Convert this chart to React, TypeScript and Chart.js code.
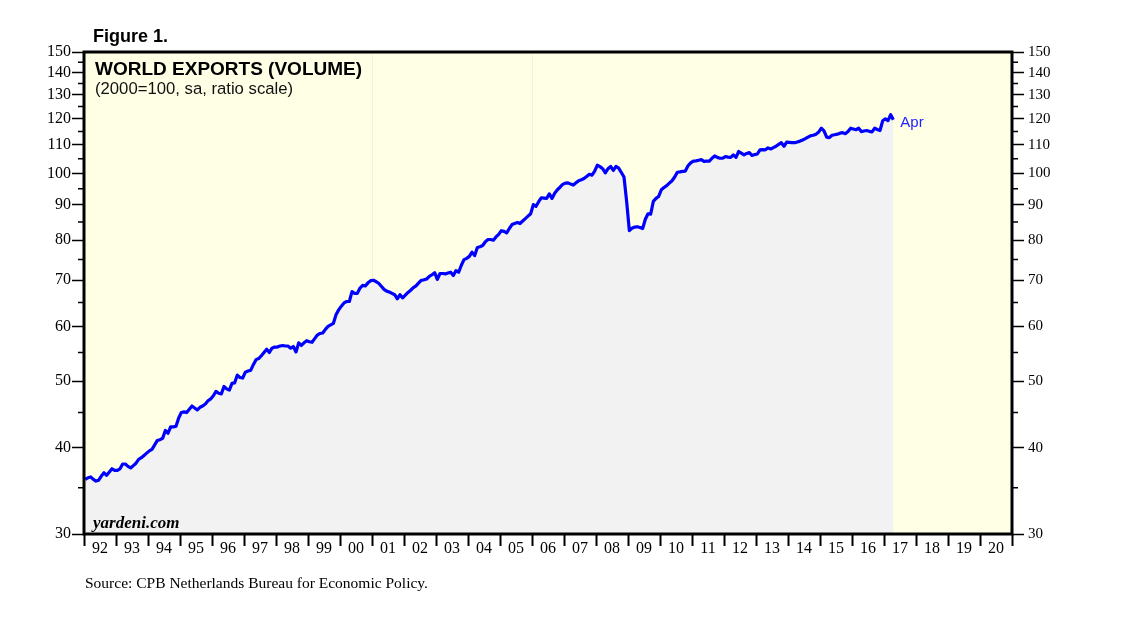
import React, { useEffect, useRef } from "react";
import { Chart, registerables } from "chart.js";

Chart.register(...registerables);

// ---- tick labels / categories ----
const YEAR_LABELS = [
  "92", "93", "94", "95", "96", "97", "98", "99", "00", "01",
  "02", "03", "04", "05", "06", "07", "08", "09", "10", "11",
  "12", "13", "14", "15", "16", "17", "18", "19", "20",
];
const Y_TICKS = [30, 35, 40, 45, 50, 55, 60, 65, 70, 75, 80, 85, 90, 95, 100, 105, 110, 115, 120, 125, 130, 135, 140, 145, 150];
const Y_MIN = 30;
const Y_MAX = 150;
const MONTHS_SPAN = 348; // Jan 1992 .. Dec 2020
const FAINT_LINE_MONTHS = [108, 168]; // 2001, 2006

// ---- World exports volume, monthly (2000=100) ----
const y1992 = [36.0, 36.2, 36.3, 36.0, 35.8, 35.9, 36.4, 36.8, 36.5, 36.9, 37.3, 37.1];
const y1993 = [37.1, 37.3, 37.9, 37.9, 37.6, 37.4, 37.7, 38.0, 38.5, 38.7, 39.0, 39.3];
const y1994 = [39.6, 39.8, 40.4, 41.0, 41.1, 41.3, 42.4, 42.0, 42.9, 42.9, 43.0, 44.2];
const y1995 = [45.0, 45.1, 45.0, 45.5, 46.0, 45.7, 45.4, 45.8, 46.0, 46.3, 46.8, 47.1];
const y1996 = [47.6, 48.3, 48.0, 47.9, 49.1, 48.7, 48.5, 49.6, 49.7, 51.0, 50.6, 50.5];
const y1997 = [51.5, 51.7, 51.8, 52.8, 53.7, 53.9, 54.4, 55.0, 55.6, 55.0, 55.8, 56.0];
const y1998 = [56.0, 56.2, 56.3, 56.2, 56.2, 55.8, 56.1, 55.1, 56.8, 56.3, 56.8, 57.2];
const y1999 = [57.0, 56.9, 57.6, 58.3, 58.6, 58.7, 59.4, 60.0, 60.3, 60.6, 62.4, 63.4];
const y2000 = [64.2, 64.9, 65.2, 65.2, 67.4, 67.0, 67.0, 68.2, 68.8, 68.7, 69.4, 69.9];
const y2001 = [70.0, 69.7, 69.3, 68.6, 67.9, 67.5, 67.3, 67.0, 66.7, 65.8, 66.7, 66.0];
const y2002 = [66.6, 67.2, 67.7, 68.3, 68.7, 69.4, 70.0, 70.1, 70.3, 70.9, 71.3, 71.8];
const y2003 = [70.2, 71.6, 71.6, 71.5, 71.7, 71.9, 71.1, 72.3, 71.9, 73.6, 75.0, 75.3];
const y2004 = [75.8, 76.9, 76.0, 78.1, 78.3, 78.6, 79.6, 80.2, 80.2, 80.0, 80.9, 81.6];
const y2005 = [82.6, 82.4, 82.0, 83.2, 84.3, 84.6, 84.9, 84.6, 85.3, 86.0, 86.7, 87.4];
const y2006 = [90.1, 89.6, 91.0, 92.2, 92.1, 92.0, 93.4, 92.0, 93.6, 94.7, 95.5, 96.4];
const y2007 = [96.8, 96.9, 96.5, 96.2, 96.9, 97.6, 97.9, 98.3, 99.0, 99.7, 99.4, 100.8];
const y2008 = [102.8, 102.3, 101.6, 100.2, 101.6, 102.4, 101.0, 102.4, 101.8, 100.3, 98.8, 91.0];
const y2009 = [82.6, 83.3, 83.6, 83.7, 83.5, 83.2, 85.8, 87.4, 87.3, 91.1, 92.0, 92.6];
const y2010 = [94.7, 95.4, 96.0, 96.8, 97.6, 98.8, 100.4, 100.5, 100.7, 100.8, 102.6, 103.6];
const y2011 = [104.2, 104.3, 104.5, 104.7, 104.1, 104.2, 104.2, 105.2, 106.0, 105.5, 105.2, 105.2];
const y2012 = [105.8, 105.6, 105.5, 106.4, 105.5, 107.6, 107.0, 106.4, 106.9, 107.2, 106.2, 106.5];
const y2013 = [106.7, 108.2, 108.3, 108.2, 108.9, 108.5, 109.0, 109.5, 110.2, 110.8, 109.5, 111.0];
const y2014 = [110.9, 110.8, 110.8, 111.1, 111.4, 111.8, 112.3, 112.9, 113.4, 113.6, 114.0, 114.8];
const y2015 = [116.3, 115.3, 112.9, 112.7, 113.6, 113.8, 114.0, 114.4, 114.6, 114.2, 115.0, 116.3];
const y2016 = [116.0, 115.7, 116.3, 115.0, 115.2, 115.4, 115.1, 114.9, 116.3, 115.8, 115.4, 119.2];
const y2017 = [120.0, 119.3, 121.7, 119.6];

const EXPORTS_VOLUME = [
  ...y1992, ...y1993, ...y1994, ...y1995, ...y1996, ...y1997, ...y1998, ...y1999,
  ...y2000, ...y2001, ...y2002, ...y2003, ...y2004, ...y2005, ...y2006, ...y2007,
  ...y2008, ...y2009, ...y2010, ...y2011, ...y2012, ...y2013, ...y2014, ...y2015,
  ...y2016, ...y2017,
];

const FIGURE_LABEL = "Figure 1.";
const TITLE = "WORLD EXPORTS (VOLUME)";
const SUBTITLE = "(2000=100, sa, ratio scale)";
const WATERMARK = "yardeni.com";
const LAST_LABEL = "Apr";
const SOURCE = "Source: CPB Netherlands Bureau for Economic Policy.";

const SERIF = "'Liberation Serif', 'Times New Roman', serif";
const SANS = "'Liberation Sans', Arial, sans-serif";

export default function App() {
  const ref = useRef<HTMLCanvasElement>(null);

  useEffect(() => {
    const canvas = ref.current;
    if (!canvas) return;
    const points = EXPORTS_VOLUME.map((v, i) => ({ x: i + 0.5, y: v }));

    const deco = {
      id: "deco",
      beforeDraw(chart: any) {
        const { ctx, chartArea: a } = chart;
        ctx.save();
        ctx.fillStyle = "#ffffff";
        ctx.fillRect(0, 0, chart.width, chart.height);
        ctx.fillStyle = "#ffffe6";
        ctx.fillRect(a.left, a.top, a.right - a.left, a.bottom - a.top);
        ctx.restore();
      },
      beforeDatasetsDraw(chart: any) {
        const { ctx, chartArea: a } = chart;
        const xs = chart.scales.x;
        ctx.save();
        ctx.strokeStyle = "#f1f1e2";
        ctx.lineWidth = 1;
        FAINT_LINE_MONTHS.forEach((m) => {
          const px = Math.round(xs.getPixelForValue(m)) + 0.5;
          ctx.beginPath();
          ctx.moveTo(px, a.top);
          ctx.lineTo(px, a.bottom);
          ctx.stroke();
        });
        ctx.restore();
      },
      afterDatasetsDraw(chart: any) {
        const { ctx, chartArea: a } = chart;
        const ys = chart.scales.y;
        const xs = chart.scales.x;
        ctx.save();
        // minor ticks
        ctx.strokeStyle = "#000";
        ctx.lineWidth = 1.5;
        Y_TICKS.forEach((v) => {
          if (v % 10 === 0) return;
          const py = ys.getPixelForValue(v);
          ctx.beginPath();
          ctx.moveTo(a.left - 6, py);
          ctx.lineTo(a.left, py);
          ctx.moveTo(a.right, py);
          ctx.lineTo(a.right + 6, py);
          ctx.stroke();
        });
        // frame
        ctx.lineWidth = 3;
        ctx.strokeRect(a.left, a.top, a.right - a.left, a.bottom - a.top);

        // texts
        ctx.fillStyle = "#000";
        ctx.textBaseline = "alphabetic";
        ctx.textAlign = "left";
        ctx.font = `bold 18px ${SANS}`;
        ctx.fillText(FIGURE_LABEL, 93, 42);
        ctx.font = `bold 19px ${SANS}`;
        ctx.fillText(TITLE, 95, 75);
        ctx.font = `16.7px ${SANS}`;
        ctx.fillStyle = "#111";
        ctx.fillText(SUBTITLE, 95, 94);
        ctx.fillStyle = "#000";
        ctx.font = `italic bold 17px ${SERIF}`;
        ctx.fillText(WATERMARK, 93, 528);
        ctx.font = `15.5px ${SERIF}`;
        ctx.fillText(SOURCE, 85, 588);

        // last-point label
        const last = points[points.length - 1];
        const lx = xs.getPixelForValue(last.x);
        const ly = ys.getPixelForValue(last.y);
        ctx.fillStyle = "#2222ff";
        ctx.font = `15px ${SANS}`;
        ctx.textBaseline = "middle";
        ctx.fillText(LAST_LABEL, lx + 7, ly + 3);
        ctx.restore();
      },
    };

    const yTickOpts = (side: "left" | "right") => ({
      type: "logarithmic" as const,
      position: side,
      min: Y_MIN,
      max: Y_MAX,
      afterBuildTicks: (axis: any) => {
        axis.ticks = Y_TICKS.map((v) => ({ value: v }));
      },
      afterFit: (axis: any) => {
        axis.width = side === "left" ? 84 : 1138 - 1012;
      },
      border: { display: false },
      grid: {
        drawOnChartArea: false,
        drawTicks: true,
        tickLength: 12,
        tickWidth: 1.5,
        tickColor: (c: any) => (c.tick && c.tick.value % 10 === 0 ? "#000" : "rgba(0,0,0,0)"),
      },
      ticks: {
        autoSkip: false,
        color: "#000",
        padding: side === "left" ? 1 : 4,
        font: { family: SERIF, size: side === "left" ? 16 : 15 },
        callback: (v: any) => (Number(v) % 10 === 0 ? String(v) : ""),
      },
    });

    const chart = new Chart(canvas, {
      type: "line",
      data: {
        datasets: [
          {
            label: "World exports (volume)",
            data: points,
            xAxisID: "x",
            yAxisID: "y",
            borderColor: "#0000ff",
            borderWidth: 3.2,
            pointRadius: 0,
            tension: 0,
            fill: "start",
            backgroundColor: "#f2f2f2",
            borderJoinStyle: "round",
          },
        ],
      },
      options: {
        responsive: false,
        animation: false,
        events: [],
        layout: { padding: { top: 52, left: 0, right: 0, bottom: 0 } },
        plugins: {
          legend: { display: false },
          title: { display: false },
          tooltip: { enabled: false },
        },
        scales: {
          x: {
            type: "linear",
            display: false,
            min: 0,
            max: MONTHS_SPAN,
          },
          years: {
            type: "category",
            position: "bottom",
            labels: YEAR_LABELS,
            offset: true,
            afterFit: (axis: any) => {
              axis.height = 621 - 534;
            },
            border: { display: false },
            grid: {
              offset: true,
              drawOnChartArea: false,
              drawTicks: true,
              tickLength: 12,
              tickWidth: 2,
              tickColor: "#000",
            },
            ticks: {
              autoSkip: false,
              maxRotation: 0,
              minRotation: 0,
              color: "#000",
              padding: -7,
              font: { family: SERIF, size: 16 },
            },
          },
          y: yTickOpts("left"),
          y2: yTickOpts("right"),
        } as any,
      },
      plugins: [deco],
    } as any);

    return () => chart.destroy();
  }, []);

  return (
    <canvas
      ref={ref}
      width={1138}
      height={621}
      style={{ position: "absolute", left: 0, top: 0, display: "block" }}
    />
  );
}
